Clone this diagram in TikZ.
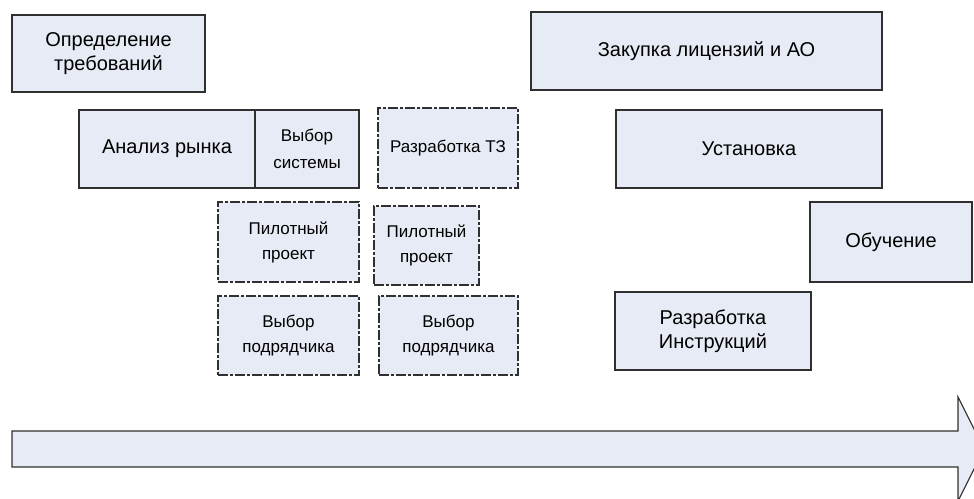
\documentclass[tikz,border=0pt]{standalone}
\usepackage{fontspec}
\setmainfont{Liberation Sans}
\begin{document}
\begin{tikzpicture}[x=1pt, y=-1pt,
  box/.style = {draw = edge, fill = col, line width = 1.1pt, inner sep = 0pt, align = center, font = \fontsize{20}{24}\selectfont},
  small/.style = {font = \fontsize{17}{25}\selectfont},
  dashbox/.style = {box, small, dash pattern = on 10pt off 2pt on 3pt off 2pt}]
\definecolor{col}{HTML}{E6EBF5}
\definecolor{edge}{HTML}{303030}
\useasboundingbox (0, 0) rectangle (974, 498);
\clip (0, 0) rectangle (974, 498);
\node[box, minimum width = 193pt, minimum height = 77pt] (opred) at (108.5, 53.5) {Определение\\требований};
\node[box, minimum width = 176pt, minimum height = 78pt] (analiz) at (167, 149) {Анализ рынка};
\node[box, minimum width = 104pt, minimum height = 78pt, font = \fontsize{17}{27}\selectfont] (vybor) at (307, 149) {Выбор\\системы};
\node[dashbox, minimum width = 140pt, minimum height = 80pt] (tz) at (448, 148) {Разработка ТЗ};
\node[dashbox, minimum width = 141pt, minimum height = 80pt] (pilotA) at (288.5, 242) {Пилотный\\проект};
\node[dashbox, minimum width = 105pt, minimum height = 79pt] (pilotB) at (426.5, 245.5) {Пилотный\\проект};
\node[dashbox, minimum width = 141pt, minimum height = 79pt] (podrA) at (288.5, 335.5) {Выбор\\подрядчика};
\node[dashbox, minimum width = 139pt, minimum height = 79pt] (podrB) at (448.5, 335.5) {Выбор\\подрядчика};
\node[box, minimum width = 351pt, minimum height = 78pt] (zakup) at (706.5, 51) {Закупка лицензий и АО};
\node[box, minimum width = 266pt, minimum height = 78pt] (ustan) at (749, 149) {Установка};
\node[box, minimum width = 162pt, minimum height = 80pt] (obuch) at (891, 242) {Обучение};
\node[box, minimum width = 196pt, minimum height = 78pt] (instr) at (713, 331) {Разработка\\Инструкций};
% time arrow
\filldraw[draw = edge, fill = col, line width = 1.1pt] (12, 431) -- (958, 431) -- (958, 397) -- (984, 449) -- (958, 501) -- (958, 467) -- (12, 467) -- cycle;
\end{tikzpicture}
\end{document}
